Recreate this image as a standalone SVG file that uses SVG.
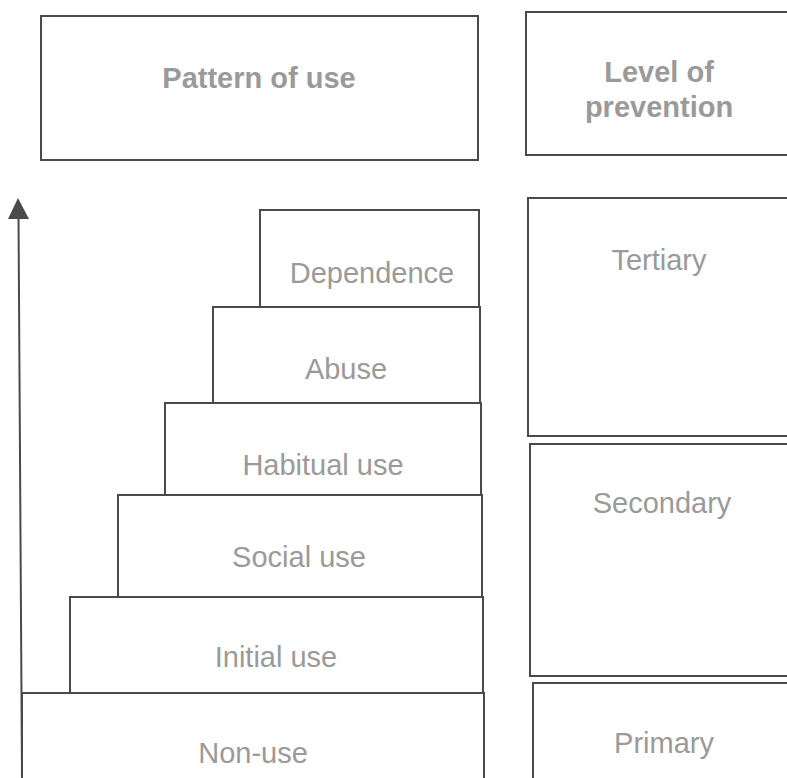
<svg xmlns="http://www.w3.org/2000/svg" width="787" height="778" viewBox="0 0 787 778">
<style>
.box{fill:#fff;stroke:#4a4a4a;stroke-width:2}
.t{font-family:"Liberation Sans",Arial,sans-serif;font-size:29px;fill:#9a9a9a;text-anchor:middle}
.b{font-weight:bold}
</style>
<rect width="787" height="778" fill="#fff"/>
<g id="pattern-header"><rect class="box" x="41" y="16" width="437" height="144"/><text class="t b" x="259" y="88">Pattern of use</text></g>
<g id="level-header"><rect class="box" x="526" y="12" width="280" height="143"/><text class="t b" x="659" y="82">Level of</text><text class="t b" x="659" y="117">prevention</text></g>
<g id="non-use"><rect class="box" x="22" y="693" width="462" height="100"/><text class="t" x="253" y="763">Non-use</text></g>
<g id="initial-use"><rect class="box" x="70" y="597" width="413" height="96"/><text class="t" x="276" y="667">Initial use</text></g>
<g id="social-use"><rect class="box" x="118" y="495" width="364" height="102"/><text class="t" x="299" y="567">Social use</text></g>
<g id="habitual-use"><rect class="box" x="165" y="403" width="316" height="92"/><text class="t" x="323" y="475">Habitual use</text></g>
<g id="abuse"><rect class="box" x="213" y="307" width="267" height="96"/><text class="t" x="346" y="379">Abuse</text></g>
<g id="dependence"><rect class="box" x="260" y="210" width="219" height="97"/><text class="t" x="372" y="283">Dependence</text></g>
<g id="tertiary"><rect class="box" x="528" y="198" width="280" height="238"/><text class="t" x="659" y="270">Tertiary</text></g>
<g id="secondary"><rect class="box" x="530" y="444" width="280" height="232"/><text class="t" x="662" y="513">Secondary</text></g>
<g id="primary"><rect class="box" x="533" y="683" width="280" height="110"/><text class="t" x="664" y="753">Primary</text></g>
<g id="connectors">
<line x1="22" y1="778" x2="18.5" y2="216" stroke="#4a4a4a" stroke-width="2"/>
<polygon points="18,198 8,219 29,219" fill="#4a4a4a"/>
</g>
</svg>
